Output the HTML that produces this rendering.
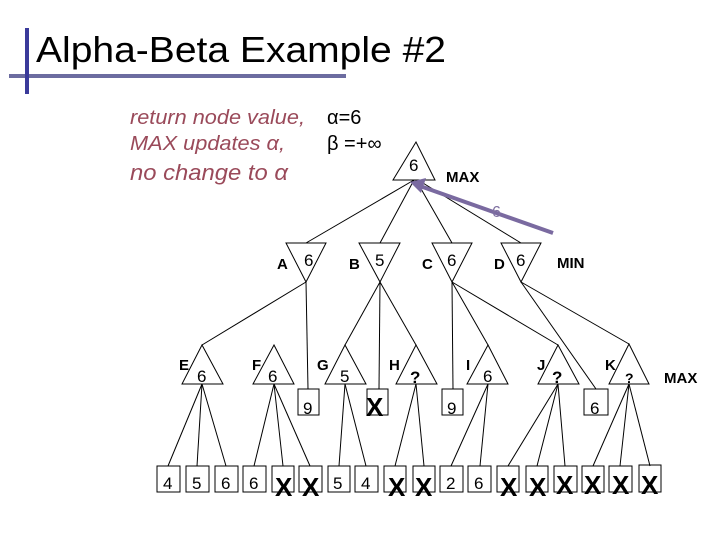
<!DOCTYPE html>
<html><head><meta charset="utf-8"><style>
body{margin:0;background:#fff;}
svg{display:block;}
</style></head><body>
<svg width="720" height="540" viewBox="0 0 720 540" xmlns="http://www.w3.org/2000/svg" font-family="Liberation Sans, DejaVu Sans, sans-serif">
<rect width="720" height="540" fill="#fff"/>
<rect x="9" y="74" width="337" height="4" fill="#6c6ca0"/>
<rect x="25" y="28" width="4" height="66" fill="#3a3a9a"/>
<text x="36" y="62" font-size="36" fill="#000" textLength="410" lengthAdjust="spacingAndGlyphs">Alpha-Beta Example #2</text>
<g fill="#9a4a5a" font-style="italic" font-size="20">
<text x="130" y="124" textLength="175" lengthAdjust="spacingAndGlyphs">return node value,</text>
<text x="130" y="150" textLength="155" lengthAdjust="spacingAndGlyphs">MAX updates α,</text>
<text x="130" y="180" font-size="22" textLength="158" lengthAdjust="spacingAndGlyphs">no change to α</text>
</g>
<text x="327" y="124" font-size="20">α=6</text>
<text x="327" y="150" font-size="20">β =+∞</text>
<g stroke="#000" stroke-width="1" fill="none">
<polygon points="416,142 393,180 435,180" fill="#fff"/>
<line x1="414" y1="180" x2="306" y2="243"/>
<line x1="414" y1="180" x2="380" y2="243"/>
<line x1="416" y1="180" x2="452" y2="243"/>
<line x1="418" y1="180" x2="521" y2="243"/>
<polygon points="286,243 326,243 306,282"/>
<polygon points="359,243 400,243 380,282"/>
<polygon points="432,243 472,243 452,282"/>
<polygon points="501,243 541,243 521,282"/>
<line x1="306" y1="282" x2="202" y2="345"/>
<line x1="306" y1="282" x2="308" y2="389"/>
<line x1="380" y1="282" x2="345" y2="345"/>
<line x1="380" y1="282" x2="379" y2="389"/>
<line x1="380" y1="282" x2="416" y2="345"/>
<line x1="452" y1="282" x2="453" y2="389"/>
<line x1="452" y1="282" x2="488" y2="345"/>
<line x1="452" y1="282" x2="558" y2="345"/>
<line x1="521" y1="282" x2="596" y2="389"/>
<line x1="521" y1="282" x2="629" y2="344"/>
<polygon points="202,345 182,384 223,384"/>
<polygon points="274,345 253,384 294,384"/>
<polygon points="345,345 325,384 366,384"/>
<polygon points="416,345 396,384 437,384"/>
<polygon points="488,345 467,384 508,384"/>
<polygon points="558,345 538,384 579,384"/>
<polygon points="629,344 609,384 649,384"/>
<rect x="298" y="389" width="21" height="26"/>
<rect x="367" y="389" width="21" height="26"/>
<rect x="442" y="389" width="21" height="26"/>
<rect x="584" y="389" width="24" height="26"/>
<line x1="202" y1="384" x2="168" y2="466"/><line x1="202" y1="384" x2="197" y2="466"/><line x1="202" y1="384" x2="226" y2="466"/>
<line x1="274" y1="384" x2="254" y2="466"/><line x1="274" y1="384" x2="283" y2="466"/><line x1="274" y1="384" x2="310" y2="466"/>
<line x1="345" y1="384" x2="339" y2="466"/><line x1="345" y1="384" x2="366" y2="466"/>
<line x1="416" y1="384" x2="395" y2="466"/><line x1="416" y1="384" x2="424" y2="466"/>
<line x1="488" y1="384" x2="451" y2="466"/><line x1="488" y1="384" x2="480" y2="466"/>
<line x1="558" y1="384" x2="508" y2="466"/><line x1="558" y1="384" x2="537" y2="466"/><line x1="558" y1="384" x2="565" y2="466"/>
<line x1="629" y1="384" x2="593" y2="466"/><line x1="629" y1="384" x2="620" y2="466"/><line x1="629" y1="384" x2="650" y2="466"/>
<rect x="157" y="466" width="23" height="26"/><rect x="186" y="466" width="23" height="26"/><rect x="215" y="466" width="23" height="26"/>
<rect x="243" y="466" width="23" height="26"/><rect x="272" y="466" width="22" height="26"/><rect x="299" y="466" width="23" height="26"/>
<rect x="328" y="466" width="22" height="26"/><rect x="355" y="466" width="23" height="26"/><rect x="384" y="466" width="22" height="26"/>
<rect x="413" y="466" width="22" height="26"/><rect x="440" y="466" width="23" height="26"/><rect x="468" y="466" width="23" height="26"/>
<rect x="497" y="466" width="22" height="26"/><rect x="526" y="466" width="22" height="26"/><rect x="554" y="466" width="23" height="26"/>
<rect x="582" y="466" width="22" height="26"/><rect x="609" y="466" width="23" height="26"/><rect x="639" y="465" width="22" height="27"/>
</g>
<line x1="553" y1="233" x2="420" y2="186" stroke="#7a6aa0" stroke-width="4"/>
<polygon points="410,182 426,178 421,193" fill="#7a6aa0"/>
<text x="492" y="217" font-size="16" fill="#7f70a0">6</text>
<g font-size="17" fill="#000">
<text x="409" y="171">6</text>
<text x="304" y="266">6</text><text x="375" y="266">5</text><text x="447" y="266">6</text><text x="516" y="266">6</text>
<text x="197" y="382">6</text><text x="268" y="382">6</text><text x="340" y="382">5</text><text x="483" y="382">6</text>
<text x="303" y="414">9</text><text x="447" y="414">9</text><text x="590" y="414">6</text>
</g>
<g font-size="15" font-weight="bold" fill="#000">
<text x="446" y="182">MAX</text><text x="557" y="268">MIN</text><text x="664" y="383">MAX</text>
<text x="277" y="269">A</text><text x="349" y="269">B</text><text x="422" y="269">C</text><text x="494" y="269">D</text>
<text x="179" y="370">E</text><text x="252" y="370">F</text><text x="317" y="370">G</text><text x="389" y="370">H</text>
<text x="466" y="370">I</text><text x="537" y="370">J</text><text x="605" y="370">K</text>
<text x="410" y="383" font-size="17">?</text><text x="552" y="383" font-size="17">?</text><text x="625" y="383" font-size="14">?</text>
</g>
<g font-size="17" fill="#000">
<text x="163" y="489">4</text><text x="192" y="489">5</text><text x="221" y="489">6</text><text x="249" y="489">6</text>
<text x="333" y="489">5</text><text x="361" y="489">4</text><text x="446" y="489">2</text><text x="474" y="489">6</text>
</g>
<g font-size="26" font-weight="bold" fill="#000">
<text x="366" y="416">X</text>
<text x="275" y="496">X</text><text x="302" y="496">X</text><text x="388" y="496">X</text><text x="415" y="496">X</text>
<text x="500" y="496">X</text><text x="529" y="496">X</text><text x="556" y="494">X</text><text x="584" y="494">X</text>
<text x="612" y="494">X</text><text x="641" y="494">X</text>
</g>
</svg>
</body></html>
